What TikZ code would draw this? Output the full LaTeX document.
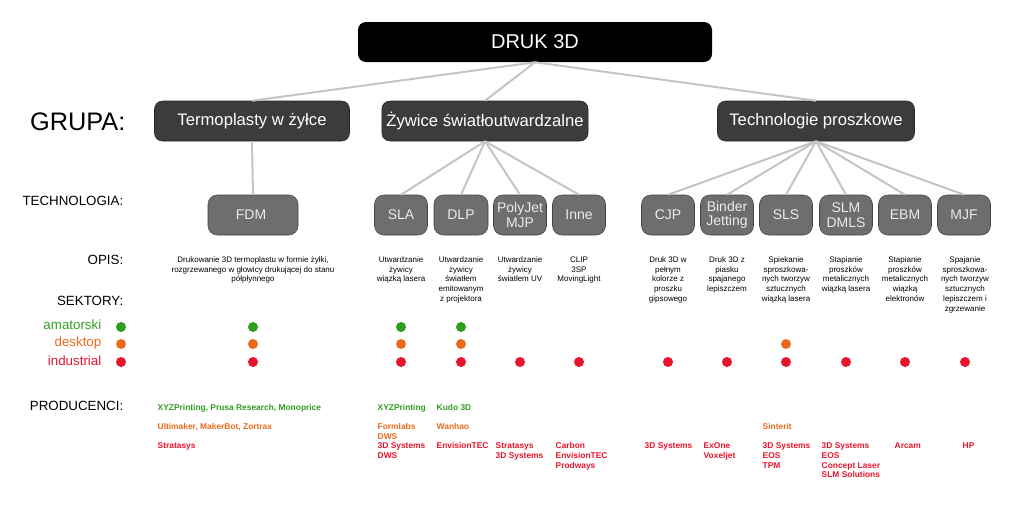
\documentclass[tikz,border=0pt]{standalone}
\usepackage{fontspec}
\setmainfont{Liberation Sans}
\definecolor{cg}{HTML}{2E9E1E}
\definecolor{co}{HTML}{EA6A1C}
\definecolor{cr}{HTML}{E8142C}
\definecolor{ln}{HTML}{C4C4C4}
\definecolor{grp}{HTML}{3C3C3C}
\definecolor{tec}{HTML}{6E6E6E}
\begin{document}
\begin{tikzpicture}[x=0.75pt,y=-0.75pt,
 top/.style={fill=black,rounded corners=6pt,text=white,font=\fontsize{15}{16}\selectfont},
 grpbox/.style={fill=grp,draw=grp!60!black,rounded corners=6pt,text=white,font=\fontsize{12.5}{14}\selectfont},
 tecbox/.style={fill=tec,draw=tec!60!black,rounded corners=7pt,text=white!92!black,font=\fontsize{10.5}{11}\selectfont,align=center},
 conn/.style={draw=ln,line width=1.5pt},
 lab/.style={anchor=east,font=\fontsize{10}{12}\selectfont},
 desc/.style={anchor=north,align=center,font=\fontsize{6}{7.3}\selectfont},
 prod/.style={anchor=north west,align=left,font=\bfseries\fontsize{6.3}{7.3}\selectfont},
 dot/.style={circle,inner sep=0pt,minimum size=7.5pt}]
\useasboundingbox (0,0) rectangle (1024,507);
% top
\node[top,minimum width=354*0.75pt,minimum height=40*0.75pt] (top) at (535,42) {DRUK 3D};
\node[grpbox,minimum width=195*0.75pt,minimum height=40*0.75pt] (g1) at (252,121) {Termoplasty w żyłce};
\node[grpbox,minimum width=206*0.75pt,minimum height=40*0.75pt] (g2) at (485,121) {Żywice światłoutwardzalne};
\node[grpbox,minimum width=197*0.75pt,minimum height=40*0.75pt] (g3) at (816,121) {Technologie proszkowe};
\foreach \g in {g1,g2,g3} \draw[conn] (top.south) -- (\g.north);
% tech boxes
\foreach \n/\x/\w/\t in {fdm/253/90/FDM / FFF, sla/401/53/SLA, dlp/461/54/DLP, poly/520/53/{PolyJet\\MJP}, inne/579/53/Inne,
 cjp/668/53/CJP, bj/727/53/{Binder\\Jetting}, sls/786/53/SLS, slm/846/53/{SLM\\DMLS}, ebm/905/53/EBM, mjf/964/53/MJF}
 \node[tecbox,minimum width=\w*0.75pt,minimum height=40*0.75pt,inner sep=1pt] (\n) at (\x,215) {\t};
\draw[conn] (g1.south) -- (fdm.north);
\foreach \n in {sla,dlp,poly,inne} \draw[conn] (g2.south) -- (\n.north);
\foreach \n in {cjp,bj,sls,slm,ebm,mjf} \draw[conn] (g3.south) -- (\n.north);
% left labels
\node[anchor=east,font=\fontsize{19}{20}\selectfont] (lgr) at (130,122) {GRUPA:};
\node[lab] (ltech) at (128,201) {TECHNOLOGIA:};
\node[lab] (lopis) at (128,260) {OPIS:};
\node[lab] (lsek) at (128,301) {SEKTORY:};
\node[lab,text=cg] (lam) at (106,325) {amatorski};
\node[lab,text=co] (lde) at (106,343) {desktop};
\node[lab,text=cr] (lin) at (106,361) {industrial};
\node[lab] (lpr) at (128,406) {PRODUCENCI:};
% dots
\foreach \x in {121,253,401,461} \node[dot,fill=cg] at (\x,327) {};
\foreach \x in {121,253,401,461,786} \node[dot,fill=co] at (\x,344) {};
\foreach \x in {121,253,401,461,520,579,668,727,786,846,905,965} \node[dot,fill=cr] at (\x,362) {};
% descriptions
\node[desc] (d1) at (253,252) {Drukowanie 3D termoplastu w formie żyłki,\\rozgrzewanego w głowicy drukującej do stanu\\półpłynnego};
\node[desc] (d2) at (401,252) {Utwardzanie\\żywicy\\wiązką lasera};
\node[desc] (d3) at (461,252) {Utwardzanie\\żywicy\\światłem\\emitowanym\\z projektora};
\node[desc] (d4) at (520,252) {Utwardzanie\\żywicy\\światłem UV};
\node[desc] (d5) at (579,252) {CLIP\\3SP\\MovingLight};
\node[desc] (d6) at (668,252) {Druk 3D w\\pełnym\\kolorze z\\proszku\\gipsowego};
\node[desc] (d7) at (727,252) {Druk 3D z\\piasku\\spajanego\\lepiszczem};
\node[desc] (d8) at (786,252) {Spiekanie\\sproszkowa-\\nych tworzyw\\sztucznych\\wiązką lasera};
\node[desc] (d9) at (846,252) {Stapianie\\proszków\\metalicznych\\wiązką lasera};
\node[desc] (d10) at (905,252) {Stapianie\\proszków\\metalicznych\\wiązką\\elektronów};
\node[desc] (d11) at (965,252) {Spajanie\\sproszkowa-\\nych tworzyw\\sztucznych\\lepiszczem i\\zgrzewanie};
% producers
\node[prod,text=cg] (p1) at (153,400) {XYZPrinting, Prusa Research, Monoprice};
\node[prod,text=co] (p2) at (153,419) {Ultimaker, MakerBot, Zortrax};
\node[prod,text=cr] (p3) at (153,438) {Stratasys};
\node[prod,text=cg] (p4) at (373,400) {XYZPrinting};
\node[prod,text=cg] (p5) at (432,400) {Kudo 3D};
\node[prod,text=co] (p6) at (373,419) {Formlabs\\DWS};
\node[prod,text=co] (p7) at (432,419) {Wanhao};
\node[prod,text=cr] (p8) at (373,438) {3D Systems\\DWS};
\node[prod,text=cr] (p9) at (432,438) {EnvisionTEC};
\node[prod,text=cr] (p10) at (491,438) {Stratasys\\3D Systems};
\node[prod,text=cr] (p11) at (551,438) {Carbon\\EnvisionTEC\\Prodways};
\node[prod,text=cr] (p12) at (640,438) {3D Systems};
\node[prod,text=cr] (p13) at (699,438) {ExOne\\Voxeljet};
\node[prod,text=co] (p14) at (758,419) {Sinterit};
\node[prod,text=cr] (p15) at (758,438) {3D Systems\\EOS\\TPM};
\node[prod,text=cr] (p16) at (817,438) {3D Systems\\EOS\\Concept Laser\\SLM Solutions};
\node[prod,text=cr] (p17) at (890,438) {Arcam};
\node[prod,text=cr] (p18) at (958,438) {HP};
\end{tikzpicture}
\end{document}
